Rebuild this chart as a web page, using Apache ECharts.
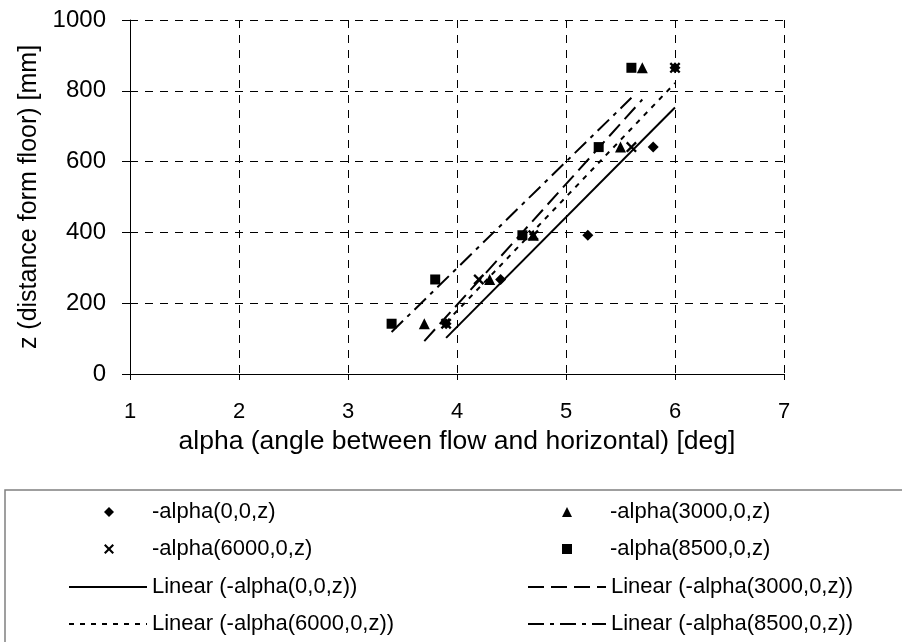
<!DOCTYPE html>
<html>
<head>
<meta charset="utf-8">
<script src="https://cdn.jsdelivr.net/npm/echarts@6/dist/echarts.min.js"></script>
<style>
  html, body { margin: 0; padding: 0; background: #fff; }
  #chart { width: 902px; height: 642px; }
</style>
</head>
<body>
<div id="chart"></div>
<script>
// Heights above the floor [mm] at which alpha was measured
const zLevels = [142, 267, 392, 641, 865];

// Measured flow angles [deg] for each x-station
const alpha0    = [3.9, 4.4, 5.2, 5.8, 6.0];
const alpha3000 = [3.7, 4.3, 4.7, 5.5, 5.7];
const alpha6000 = [3.9, 4.2, 4.7, 5.6, 6.0];
const alpha8500 = [3.4, 3.8, 4.6, 5.3, 5.6];

const seriesNames = ['-alpha(0,0,z)', '-alpha(3000,0,z)', '-alpha(6000,0,z)', '-alpha(8500,0,z)'];
const trendNames  = ['Linear (-alpha(0,0,z))', 'Linear (-alpha(3000,0,z))', 'Linear (-alpha(6000,0,z))', 'Linear (-alpha(8500,0,z))'];

const xTicks = { min: 1, max: 7, step: 1 };
const yTicks = { min: 0, max: 1000, step: 200 };

const FONT = "'Liberation Sans', Arial, Helvetica, sans-serif";
const crossPath = 'path://M0,1.5L1.5,0L5,3.5L8.5,0L10,1.5L6.5,5L10,8.5L8.5,10L5,6.5L1.5,10L0,8.5L3.5,5Z';

function pairs(xs) {
  return xs.map((x, i) => [x, zLevels[i]]);
}

// Least-squares line z = a + b*alpha, drawn over the measured alpha range
function linearTrend(xs) {
  const n = xs.length;
  const mx = xs.reduce((s, v) => s + v, 0) / n;
  const my = zLevels.reduce((s, v) => s + v, 0) / n;
  let sxy = 0, sxx = 0;
  xs.forEach((x, i) => { sxy += (x - mx) * (zLevels[i] - my); sxx += (x - mx) * (x - mx); });
  const b = sxy / sxx, a = my - b * mx;
  const x0 = Math.min(...xs), x1 = Math.max(...xs);
  return [[x0, a + b * x0], [x1, a + b * x1]];
}

const markerDefs = [
  { data: alpha0,    symbol: 'diamond',  size: 11 },
  { data: alpha3000, symbol: 'triangle', size: 11 },
  { data: alpha6000, symbol: crossPath,  size: 11 },
  { data: alpha8500, symbol: 'rect',     size: 10 }
];
const trendDash = ['solid', [16, 7], [5, 6], [16, 6, 4, 6]];

const series = [];
markerDefs.forEach((m, i) => {
  series.push({
    name: seriesNames[i],
    type: 'scatter',
    data: pairs(m.data),
    symbol: m.symbol,
    symbolSize: m.size,
    itemStyle: { color: '#000', opacity: 1 },
    emphasis: { disabled: true },
    z: 3
  });
});
[alpha0, alpha3000, alpha6000, alpha8500].forEach((xs, i) => {
  series.push({
    name: trendNames[i],
    type: 'line',
    data: linearTrend(xs),
    symbol: 'none',
    showSymbol: false,
    lineStyle: { color: '#000', width: 2, type: trendDash[i] },
    itemStyle: { color: '#000' },
    emphasis: { disabled: true },
    z: 2
  });
});

// Legend: two columns, four rows (markers, then trend lines)
const rowTop = [500, 537, 575, 612];
const legendText = { fontFamily: FONT, fontSize: 22, color: '#000', lineHeight: 24 };

function markerLegend(name, icon, left, top) {
  return {
    left: left, top: top, padding: 0,
    itemWidth: 10, itemHeight: 10,
    selectedMode: false,
    data: [{ name: name, icon: icon }],
    textStyle: Object.assign({ padding: [0, 0, 0, 33] }, legendText)
  };
}
function lineLegend(name, left, top) {
  return {
    left: left, top: top, padding: 0,
    itemWidth: 78, itemHeight: 10,
    selectedMode: false,
    data: [{ name: name }],
    itemStyle: { color: 'rgba(0,0,0,0)', borderColor: 'rgba(0,0,0,0)', borderWidth: 0 },
    lineStyle: { width: 2 },
    textStyle: legendText
  };
}

const chart = echarts.init(document.getElementById('chart'), null, { renderer: 'canvas' });
chart.setOption({
  animation: false,
  backgroundColor: '#fff',
  grid: { left: 130, right: 118, top: 20, bottom: 268 },
  xAxis: {
    type: 'value',
    min: xTicks.min, max: xTicks.max, interval: xTicks.step,
    name: 'alpha (angle between flow and horizontal) [deg]',
    nameLocation: 'middle',
    nameGap: 54,
    nameTextStyle: { fontFamily: FONT, fontSize: 26.5, color: '#000' },
    axisLine: { lineStyle: { color: '#000', width: 1 } },
    axisTick: { show: true, length: 6, lineStyle: { color: '#000' } },
    axisLabel: { fontFamily: FONT, fontSize: 22, color: '#000', margin: 27 },
    splitLine: { show: true, lineStyle: { color: '#000', width: 1, type: [8, 7] } }
  },
  yAxis: {
    type: 'value',
    min: yTicks.min, max: yTicks.max, interval: yTicks.step,
    name: 'z (distance form floor) [mm]',
    nameLocation: 'middle',
    nameGap: 84,
    nameTextStyle: { fontFamily: FONT, fontSize: 25, color: '#000' },
    axisLine: { show: true, lineStyle: { color: '#000', width: 1 } },
    axisTick: { show: true, length: 8, lineStyle: { color: '#000' } },
    axisLabel: { fontFamily: FONT, fontSize: 24, color: '#000', margin: 24, formatter: v => String(v) },
    splitLine: { show: true, lineStyle: { color: '#000', width: 1, type: [8, 7] } }
  },
  legend: [
    markerLegend(seriesNames[0], 'diamond', 104, rowTop[0]),
    markerLegend(seriesNames[1], 'triangle', 562, rowTop[0]),
    markerLegend(seriesNames[2], crossPath, 104, rowTop[1]),
    markerLegend(seriesNames[3], 'rect', 562, rowTop[1]),
    lineLegend(trendNames[0], 68, rowTop[2]),
    lineLegend(trendNames[1], 527, rowTop[2]),
    lineLegend(trendNames[2], 68, rowTop[3]),
    lineLegend(trendNames[3], 527, rowTop[3])
  ],
  graphic: [
    {
      type: 'rect',
      shape: { x: 5, y: 490, width: 1000, height: 300 },
      style: { fill: 'none', stroke: '#808080', lineWidth: 1.5 },
      silent: true,
      z: -1
    }
  ],
  series: series
});
</script>
</body>
</html>
